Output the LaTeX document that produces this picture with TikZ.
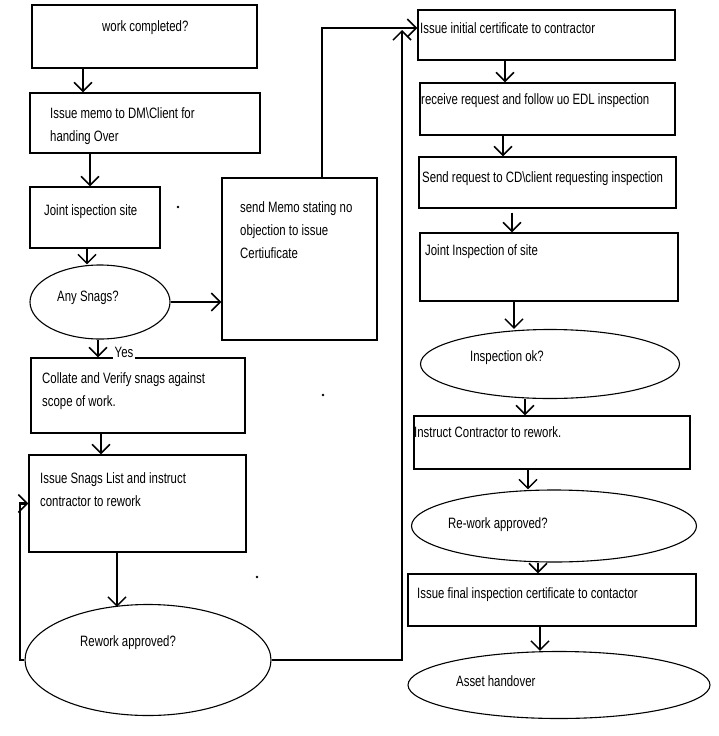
\documentclass[tikz,border=0pt]{standalone}
\usepackage{fontspec}
\setmainfont{Liberation Sans}[FakeStretch=0.76]
\usetikzlibrary{arrows.meta,shapes.geometric,fit}
\begin{document}
\begin{tikzpicture}[x=1pt,y=-1pt,
 box/.style={draw, line width=1.3pt, inner sep=0pt},
 oval/.style={draw, ellipse, line width=1.1pt, inner sep=0pt},
 arr/.style={line width=1.8pt, -{Straight Barb[length=9pt,width=18pt,line width=1.5pt]}},
 link/.style={line width=2.2pt},
 txt/.style={anchor=west, inner sep=0pt, align=left, font=\fontsize{15}{23}\selectfont}]
\fill[white] (0,0) rectangle (718,736);
\useasboundingbox (0,0) rectangle (718,736);

% left column
\node[box, fit={(32,5) (257,68)}] (b1) {};
\node[txt] at (102,28) {work completed?};
\node[box, fit={(30,93) (260,153)}] (b2) {};
\node[txt] at (50,126.5) {Issue memo to DM\textbackslash Client for\\handing Over};
\node[box, fit={(30,187) (160,248)}] (b3) {};
\node[txt] at (44,212) {Joint ispection site};
\node[oval, minimum width=140pt, minimum height=74pt] (snag) at (100,302) {};
\node[txt] at (57,298) {Any Snags?};
\node[box, fit={(31,358) (245,433)}] (b4) {};
\node[txt] at (42,391.5) {Collate and Verify snags against\\scope of work.};
\node[box, fit={(29,455) (246,552)}] (b5) {};
\node[txt] at (40,490) {Issue Snags List and instruct\\contractor to rework};
\node[oval, minimum width=246pt, minimum height=111pt] (rw) at (148,660) {};
\node[txt] at (80,643) {Rework approved?};
\node[txt, fill=white, inner sep=1.5pt] (yes) at (113,352) {Yes};

% memo box
\node[box, fit={(222,178) (377,340)}] (memo) {};
\node[txt] at (240,230) {send Memo stating no\\objection to issue\\Certiuficate};

% right column
\node[box, fit={(418,10) (675,60)}] (r1) {};
\node[txt] at (420,28) {Issue initial certificate to contractor};
\node[box, fit={(420,83) (675,135)}] (r2) {};
\node[txt] at (421,101) {receive request and follow uo EDL inspection};
\node[box, fit={(419,157) (676,208)}] (r3) {};
\node[txt] at (422,179) {Send request to CD\textbackslash client requesting inspection};
\node[box, fit={(420,233) (678,301)}] (r4) {};
\node[txt] at (425,252) {Joint Inspection of site};
\node[oval, minimum width=259pt, minimum height=69pt] (insp) at (550,364) {};
\node[txt] at (470,358) {Inspection ok?};
\node[box, fit={(414,416) (690,469)}] (r5) {};
\node[txt] at (414,432) {Instruct Contractor to rework.};
\node[oval, minimum width=285pt, minimum height=72pt] (rw2) at (554,526) {};
\node[txt] at (448,525) {Re-work approved?};
\node[box, fit={(408,574) (696,626)}] (r6) {};
\node[txt] at (417,595) {Issue final inspection certificate to contactor};
\node[oval, minimum width=302pt, minimum height=67pt] (asset) at (559,685) {};
\node[txt] at (456,681) {Asset handover};

% x positions of vertical arrows
\coordinate (xa) at (83,0);
\coordinate (xb) at (90,0);
\coordinate (xc) at (87,0);
\coordinate (xd) at (98,0);
\coordinate (xe) at (101,0);
\coordinate (xf) at (117,0);
\coordinate (xg) at (505,0);
\coordinate (xh) at (503,0);
\coordinate (xi) at (512,0);
\coordinate (xj) at (514,0);
\coordinate (xk) at (525,0);
\coordinate (xl) at (528,0);
\coordinate (xm) at (538,0);
\coordinate (xn) at (540,0);
\coordinate (xmemo) at (322,0);
\coordinate (xup) at (402,0);
\coordinate (xloop) at (20,0);

\draw[arr] (b1.south -| xa) -- (b2.north -| xa);
\draw[arr] (b2.south -| xb) -- (b3.north -| xb);
\draw[arr] (b3.south -| xc) -- (snag.north -| xc);
\draw[arr] (snag.south -| xd) -- (b4.north -| xd);
\draw[arr] (b4.south -| xe) -- (b5.north -| xe);
\draw[arr, line width=2.4pt] (b5.south -| xf) -- ([yshift=-3pt]rw.north -| xf);

\draw[arr] (snag.east) -- (memo.west |- snag.east);
\draw[arr, link] (memo.north -| xmemo) |- ([yshift=7pt]r1.west);
\draw[arr, link] (rw.east) -| ([yshift=5pt]r1.west -| xup);
\draw[arr, link] (rw.west) -| (xloop |- b5.west) -- (b5.west);

\draw[arr] (r1.south -| xg) -- (r2.north -| xg);
\draw[arr] (r2.south -| xh) -- (r3.north -| xh);
\draw[arr] ([yshift=-4pt]r3.south -| xi) -- (r4.north -| xi);
\draw[arr] (r4.south -| xj) -- (insp.north -| xj);
\draw[arr] (insp.south -| xk) -- (r5.north -| xk);
\draw[arr] (r5.south -| xl) -- (rw2.north -| xl);
\draw[arr] (rw2.south -| xm) -- (r6.north -| xm);
\draw[arr] (r6.south -| xn) -- (asset.north -| xn);

% stray dots
\fill (178,207) circle (1.3);
\fill (323,395) circle (1.3);
\fill (257,577) circle (1.3);
\end{tikzpicture}
\end{document}
